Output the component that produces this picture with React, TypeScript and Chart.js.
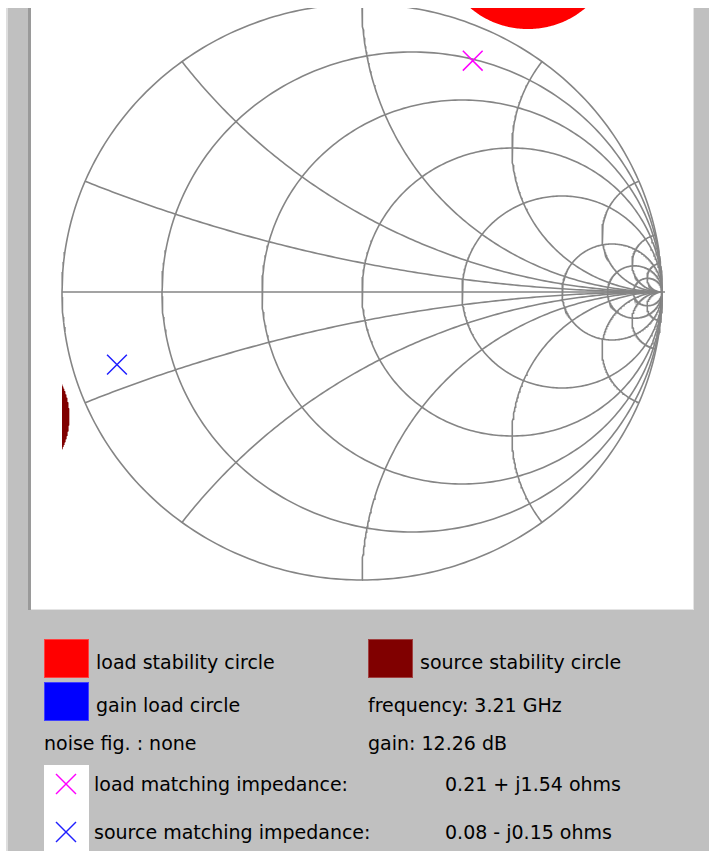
import React, { useEffect, useRef } from 'react';
import { Chart, registerables } from 'chart.js';

Chart.register(...registerables);

// ---- data ----
const resistanceValues = [0, 0.2, 0.5, 1, 2, 5, 10, 20];
const reactanceValues = [0.2, 0.5, 1, 2, 5, 10, 20];
const loadImpedance = [0.21, 1.54]; // r, x (normalized)
const sourceImpedance = [0.08, -0.15];
// stability circles in the reflection-coefficient plane: [center re, center im, radius]
const loadStabilityCircle = [0.553, 1.201, 0.288];
const sourceStabilityCircle = [-1.245, -0.434, 0.27];

const frequencyLabel = 'frequency: 3.21 GHz';
const gainLabel = 'gain: 12.26 dB';
const noiseLabel = 'noise fig. : none';
const loadImpText = '0.21 + j1.54 ohms';
const sourceImpText = '0.08 - j0.15 ohms';

const GRID = '#858585';

type P = { x: number; y: number };

function gamma(r: number, x: number): P {
  const d = (r + 1) * (r + 1) + x * x;
  return { x: (r * r - 1 + x * x) / d, y: (2 * x) / d };
}

function rCircle(r: number): P[] {
  const cx = r / (1 + r);
  const R = 1 / (1 + r);
  const pts: P[] = [];
  for (let i = 0; i <= 360; i++) {
    const a = (i / 360) * Math.PI * 2;
    pts.push({ x: cx + R * Math.cos(a), y: R * Math.sin(a) });
  }
  return pts;
}

function xArc(x: number): P[] {
  const cy = 1 / x;
  const R = 1 / Math.abs(x);
  const p0 = { x: (x * x - 1) / (x * x + 1), y: (2 * x) / (x * x + 1) };
  const a0 = Math.atan2(p0.y - cy, p0.x - 1);
  const a1 = Math.atan2(-cy, 0);
  let d = a1 - a0;
  while (d > Math.PI) d -= 2 * Math.PI;
  while (d <= -Math.PI) d += 2 * Math.PI;
  const pts: P[] = [];
  const N = 160;
  for (let i = 0; i <= N; i++) {
    const a = a0 + (d * i) / N;
    pts.push({ x: 1 + R * Math.cos(a), y: cy + R * Math.sin(a) });
  }
  return pts;
}

function fullCircle(c: number[]): P[] {
  const pts: P[] = [];
  for (let i = 0; i <= 360; i++) {
    const a = (i / 360) * Math.PI * 2;
    pts.push({ x: c[0] + c[2] * Math.cos(a), y: c[1] + c[2] * Math.sin(a) });
  }
  return pts;
}

// circle clipped to the chart's left boundary (re >= -1)
function clippedCircle(c: number[]): P[] {
  const k = (-1 - c[0]) / c[2];
  const lim = k <= -1 ? Math.PI : Math.acos(Math.max(-1, Math.min(1, k)));
  const pts: P[] = [];
  const N = 120;
  for (let i = 0; i <= N; i++) {
    const a = -lim + (2 * lim * i) / N;
    pts.push({ x: c[0] + c[2] * Math.cos(a), y: c[1] + c[2] * Math.sin(a) });
  }
  pts.push(pts[0]);
  return pts;
}

function SmithChart() {
  const ref = useRef<HTMLCanvasElement | null>(null);
  useEffect(() => {
    if (!ref.current) return;
    const datasets: any[] = [];
    const loadG = gamma(loadImpedance[0], loadImpedance[1]);
    const srcG = gamma(sourceImpedance[0], sourceImpedance[1]);
    datasets.push({
      data: [loadG],
      showLine: false,
      pointStyle: 'crossRot',
      pointRadius: 14,
      borderColor: '#ff00ff',
      backgroundColor: '#ff00ff',
      pointBorderWidth: 1.5,
      order: 0,
    });
    datasets.push({
      data: [srcG],
      showLine: false,
      pointStyle: 'crossRot',
      pointRadius: 14,
      borderColor: '#2020ff',
      backgroundColor: '#2020ff',
      pointBorderWidth: 1.5,
      order: 0,
    });
    datasets.push({
      data: fullCircle(loadStabilityCircle),
      showLine: true,
      pointRadius: 0,
      borderWidth: 0,
      borderColor: '#ff0000',
      backgroundColor: '#ff0000',
      fill: 'shape',
      order: 1,
    });
    datasets.push({
      data: clippedCircle(sourceStabilityCircle),
      showLine: true,
      pointRadius: 0,
      borderWidth: 0,
      borderColor: '#800000',
      backgroundColor: '#800000',
      fill: 'shape',
      order: 1,
    });
    const gridStyle = {
      showLine: true,
      pointRadius: 0,
      borderWidth: 1.6,
      borderColor: GRID,
      fill: false,
      order: 2,
    };
    datasets.push({ ...gridStyle, data: [{ x: -1, y: 0 }, { x: 1.01, y: 0 }] });
    resistanceValues.forEach((r) => datasets.push({ ...gridStyle, data: rCircle(r) }));
    reactanceValues.forEach((x) => {
      datasets.push({ ...gridStyle, data: xArc(x) });
      datasets.push({ ...gridStyle, data: xArc(-x) });
    });

    const chart = new Chart(ref.current, {
      type: 'line',
      data: { datasets },
      options: {
        animation: false,
        responsive: false,
        devicePixelRatio: 1,
        parsing: false,
        normalized: true,
        layout: { padding: 0, autoPadding: false },
        plugins: { legend: { display: false }, tooltip: { enabled: false } },
        events: [],
        scales: {
          x: { type: 'linear', min: -331 / 300, max: 331 / 300, display: false },
          y: { type: 'linear', min: (284 - 601) / 288, max: 284 / 288, display: false },
        },
      } as any,
    });
    return () => chart.destroy();
  }, []);
  return (
    <canvas
      ref={ref}
      width={662}
      height={601}
      style={{ position: 'absolute', left: 31, top: 8, width: 662, height: 601, background: '#ffffff' }}
    />
  );
}

const txt: React.CSSProperties = {
  position: 'absolute',
  fontFamily: '"DejaVu Sans", sans-serif',
  fontSize: 19,
  lineHeight: '22px',
  color: '#000',
  whiteSpace: 'nowrap',
};

function Swatch({ left, top, color }: { left: number; top: number; color: string }) {
  return (
    <div
      style={{
        position: 'absolute',
        left,
        top,
        width: 45,
        height: 39,
        background: color,
        boxSizing: 'border-box',
        border: '1px solid rgba(255,255,255,0.25)',
      }}
    />
  );
}

function XMark({ cx, cy, color }: { cx: number; cy: number; color: string }) {
  return (
    <svg style={{ position: 'absolute', left: cx - 11, top: cy - 11 }} width={22} height={22}>
      <line x1={1} y1={1} x2={21} y2={21} stroke={color} strokeWidth={1.5} />
      <line x1={21} y1={1} x2={1} y2={21} stroke={color} strokeWidth={1.5} />
    </svg>
  );
}

export default function App() {
  return (
    <div style={{ position: 'absolute', left: 0, top: 0, width: 709, height: 851, background: '#fff', overflow: 'hidden' }}>
      <div style={{ position: 'absolute', left: 6, top: 8, width: 703, height: 843, background: '#c0c0c0' }} />
      <div style={{ position: 'absolute', left: 6, top: 8, width: 2, height: 843, background: '#dedede' }} />
      <div style={{ position: 'absolute', left: 28, top: 8, width: 3, height: 602, background: '#9a9a9a' }} />
      <div style={{ position: 'absolute', left: 31, top: 609, width: 663, height: 1, background: '#e4e4e4' }} />
      <div style={{ position: 'absolute', left: 693, top: 8, width: 1, height: 602, background: '#e4e4e4' }} />
      <SmithChart />

      <Swatch left={44} top={639} color="#ff0000" />
      <div style={{ ...txt, left: 96, top: 651 }}>load stability circle</div>
      <Swatch left={368} top={639} color="#800000" />
      <div style={{ ...txt, left: 420, top: 651 }}>source stability circle</div>

      <Swatch left={44} top={682} color="#0000ff" />
      <div style={{ ...txt, left: 96, top: 693.5 }}>gain load circle</div>
      <div style={{ ...txt, left: 368, top: 693.5 }}>{frequencyLabel}</div>

      <div style={{ ...txt, left: 44, top: 732 }}>{noiseLabel}</div>
      <div style={{ ...txt, left: 368, top: 732 }}>{gainLabel}</div>

      <div style={{ position: 'absolute', left: 44, top: 765, width: 45, height: 90, background: '#fff' }} />
      <XMark cx={66} cy={784} color="#ff00ff" />
      <XMark cx={66} cy={832} color="#2020ff" />
      <div style={{ ...txt, left: 94, top: 772.5 }}>load matching impedance:</div>
      <div style={{ ...txt, left: 445, top: 772.5 }}>{loadImpText}</div>
      <div style={{ ...txt, left: 94, top: 821 }}>source matching impedance:</div>
      <div style={{ ...txt, left: 445, top: 821 }}>{sourceImpText}</div>
    </div>
  );
}
